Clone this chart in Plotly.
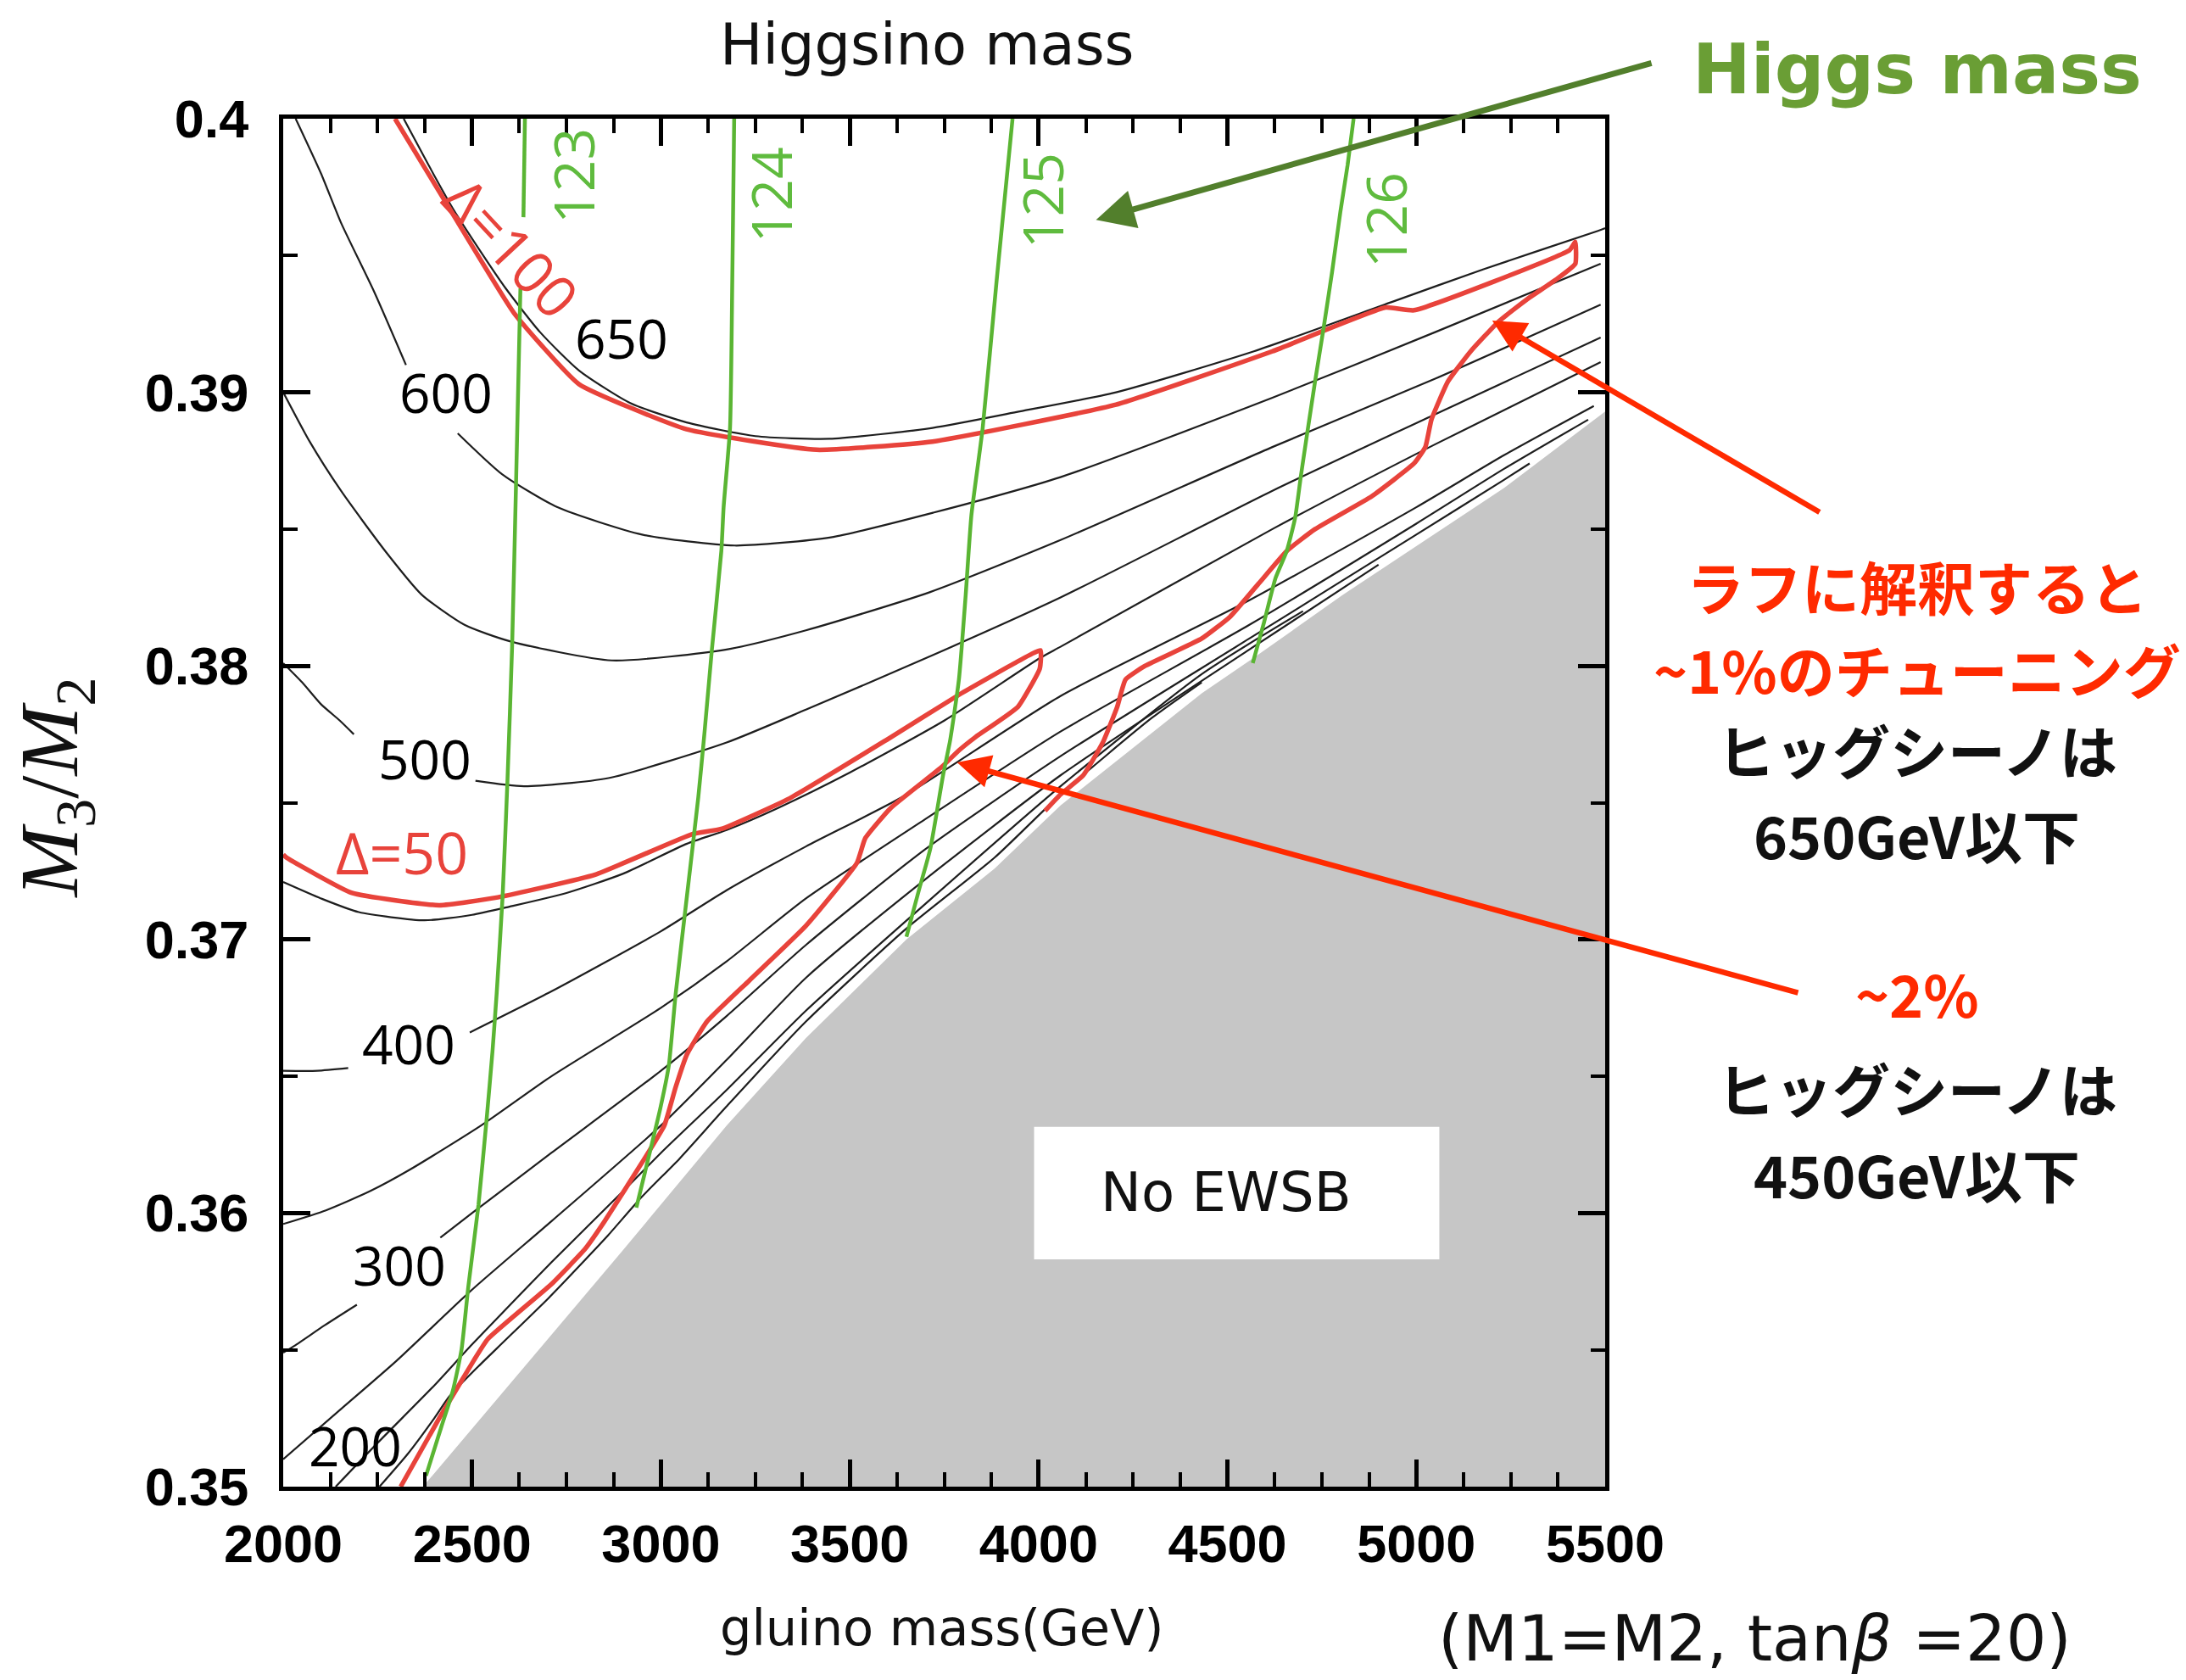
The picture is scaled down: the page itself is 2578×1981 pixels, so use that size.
import plotly.graph_objects as go

# ---------------- data: (gluino mass [GeV], M3/M2) ----------------

# boundary of the region without electroweak symmetry breaking
ewsb_edge = [(2370, 0.3500), (2700, 0.3554), (2897, 0.3586), (3174, 0.3632), (3384, 0.3664),
             (3650, 0.3700), (3884, 0.3726), (4058, 0.3749), (4432, 0.3790), (4570, 0.3803),
             (4806, 0.3826), (5232, 0.3865), (5500, 0.3893)]

# Higgsino mass contours (GeV); "_a"/"_b" pieces are split around the contour label
mu650 = [(2319, 0.4000), (2385, 0.3983), (2450, 0.3967), (2520, 0.3952), (2589, 0.3938),
         (2680, 0.3922), (2783, 0.3908), (2920, 0.3896), (3068, 0.3889), (3250, 0.3884),
         (3446, 0.3883), (3719, 0.3887), (3950, 0.3893), (4205, 0.3900), (4570, 0.3915),
         (4935, 0.3933), (5178, 0.3945), (5481, 0.3959), (5500, 0.3960)]
mu600_a = [(2033, 0.4000), (2100, 0.3980), (2153, 0.3962), (2240, 0.3937), (2325, 0.3910)]
mu600_b = [(2462, 0.3885), (2580, 0.3870), (2726, 0.3858), (2950, 0.3848), (3195, 0.3844),
           (3450, 0.3847), (3721, 0.3856), (4058, 0.3869), (4619, 0.3898), (5050, 0.3922),
           (5488, 0.3947)]
mu550 = [(2000, 0.3900), (2070, 0.3882), (2153, 0.3864), (2270, 0.3842), (2367, 0.3826),
         (2480, 0.3815), (2600, 0.3809), (2870, 0.3802), (3174, 0.3806), (3384, 0.3813),
         (3713, 0.3827), (4058, 0.3846), (4619, 0.3880), (5050, 0.3905), (5488, 0.3932)]
mu500_a = [(2000, 0.3801), (2050, 0.3794), (2100, 0.3786), (2150, 0.3780), (2187, 0.3775)]
mu500_b = [(2509, 0.3758), (2637, 0.3756), (2861, 0.3759), (3174, 0.3772), (3384, 0.3784),
           (3721, 0.3804), (4058, 0.3825), (4619, 0.3864), (5050, 0.3892), (5488, 0.3920)]
mu450 = [(2000, 0.3721), (2100, 0.3715), (2200, 0.3710), (2374, 0.3707), (2500, 0.3709),
         (2599, 0.3712), (2750, 0.3717), (2899, 0.3724), (3069, 0.3735), (3174, 0.3740),
         (3309, 0.3748), (3500, 0.3761), (3750, 0.3780), (4005, 0.3803), (4058, 0.3807),
         (4619, 0.3850), (5050, 0.3881), (5488, 0.3911)]
mu400_a = [(2000, 0.3652), (2090, 0.3652), (2172, 0.3653)]
mu400_b = [(2494, 0.3666), (2710, 0.3681), (3000, 0.3703), (3174, 0.3718), (3384, 0.3734),
           (3638, 0.3752), (4058, 0.3789), (4558, 0.3824), (5000, 0.3858), (5232, 0.3877),
           (5470, 0.3895)]
mu350 = [(2000, 0.3596), (2113, 0.3601), (2230, 0.3608), (2337, 0.3616), (2524, 0.3632),
         (2710, 0.3650), (3000, 0.3675), (3174, 0.3692), (3384, 0.3715), (3700, 0.3744),
         (4058, 0.3776), (4558, 0.3815), (5000, 0.3852), (5232, 0.3872), (5455, 0.3890)]
mu300_a = [(2000, 0.3549), (2030, 0.35515), (2110, 0.3559), (2195, 0.35665)]
mu300_b = [(2416, 0.3591), (2500, 0.3600), (2710, 0.3622), (3000, 0.3652), (3174, 0.3672),
           (3384, 0.3698), (3700, 0.3733), (4058, 0.3767), (4558, 0.3810), (5000, 0.3848),
           (5232, 0.3868), (5300, 0.3874)]
mu250 = [(2000, 0.3510), (2150, 0.3528), (2300, 0.3546), (2500, 0.3572), (2710, 0.3597),
         (3000, 0.3632), (3174, 0.3656), (3384, 0.3686), (3700, 0.3722), (4058, 0.3760),
         (4558, 0.3806), (4900, 0.3837)]
mu200 = [(2139, 0.3500), (2250, 0.3516), (2400, 0.3537), (2500, 0.3552), (2710, 0.3582),
         (2900, 0.3608), (3000, 0.3622), (3174, 0.3645), (3384, 0.3674), (3700, 0.3713),
         (4058, 0.3756), (4432, 0.3797), (4700, 0.3820)]
mu150 = [(2255, 0.3500), (2330, 0.3512), (2400, 0.3525), (2440, 0.3533), (2517, 0.3544),
         (2584, 0.3553), (2703, 0.3569), (2800, 0.3583), (2861, 0.3592), (2950, 0.3606),
         (3050, 0.3620), (3174, 0.3639), (3384, 0.3670), (3650, 0.3704), (3884, 0.3730),
         (4058, 0.3753), (4300, 0.3781), (4432, 0.3794)]

# fine-tuning contours
delta100 = [(2296, 0.4000), (2428, 0.3970), (2611, 0.3929), (2783, 0.3903), (3068, 0.38865),
            (3412, 0.3879), (3719, 0.3882), (4205, 0.38955), (4619, 0.3915), (4919, 0.3931),
            (4994, 0.3930), (5406, 0.3952), (5421, 0.3955), (5421, 0.3947), (5368, 0.3941),
            (5293, 0.3934), (5219, 0.3926), (5144, 0.3915), (5084, 0.3904), (5040, 0.3890),
            (5024, 0.3880), (4994, 0.3874), (4882, 0.3862), (4732, 0.3850), (4657, 0.3842),
            (4582, 0.3830), (4507, 0.3818), (4432, 0.3810), (4282, 0.3800), (4230, 0.3795),
            (4208, 0.3785), (4170, 0.3772), (4118, 0.3760), (4058, 0.3753), (4017, 0.3747)]
delta50 = [(2000, 0.3731), (2008, 0.3730), (2182, 0.3717), (2413, 0.37125), (2568, 0.37154),
           (2826, 0.37237), (3083, 0.37385), (3160, 0.37404), (3341, 0.37516), (3598, 0.37730),
           (3791, 0.37896), (3943, 0.38015), (4005, 0.38057), (4003, 0.3799), (3945, 0.3785),
           (3833, 0.3774), (3788, 0.3769), (3743, 0.3763), (3608, 0.3748), (3541, 0.3737),
           (3519, 0.3728), (3384, 0.3705), (3234, 0.3685), (3122, 0.3670), (3069, 0.3658),
           (3039, 0.3646), (3009, 0.3632), (2957, 0.3620), (2851, 0.3597), (2800, 0.3587),
           (2710, 0.3574), (2542, 0.3554), (2504, 0.3546), (2413, 0.3525), (2311, 0.3500)]

# Higgs mass contours (GeV)
mh123_a = [(2640, 0.4000), (2636, 0.3964)]
mh123_b = [(2628, 0.3938), (2617, 0.3870), (2606, 0.3807), (2594, 0.3759), (2581, 0.3716),
           (2565, 0.3680), (2554, 0.3659), (2539, 0.3635), (2517, 0.3603), (2490, 0.3573),
           (2472, 0.3550), (2449, 0.3535), (2419, 0.3522), (2378, 0.3504)]
mh124 = [(3194, 0.4000), (3189, 0.3941), (3183, 0.3887), (3166, 0.3858), (3160, 0.3842),
         (3135, 0.3806), (3115, 0.3775), (3099, 0.3752), (3069, 0.3716), (3039, 0.3680),
         (3021, 0.3654), (2998, 0.3638), (2972, 0.3623), (2935, 0.3602)]
mh125 = [(3931, 0.4000), (3889, 0.3941), (3852, 0.3887), (3822, 0.3855), (3807, 0.3826),
         (3789, 0.3795), (3766, 0.3773), (3747, 0.3760), (3713, 0.3733), (3683, 0.3718),
         (3650, 0.3701)]
mh126 = [(4834, 0.4000), (4818, 0.3983), (4799, 0.3966), (4777, 0.3944), (4754, 0.3923),
         (4732, 0.3904), (4710, 0.3884), (4694, 0.3869), (4679, 0.3854), (4657, 0.3842),
         (4627, 0.3832), (4597, 0.3816), (4567, 0.3801)]

# contour labels: (text, gluino mass, M3/M2)
mu_labels = [("650", 2896, 0.3920), ("600", 2430, 0.3900), ("500", 2374, 0.3766),
             ("400", 2333, 0.3662), ("300", 2307, 0.3581), ("200", 2191, 0.3515)]
mh_labels = [("123", 2766, 0.3979), ("124", 3289, 0.3972), ("125", 4006, 0.3970),
             ("126", 4916, 0.3963)]

x_ticks = [2000, 2500, 3000, 3500, 4000, 4500, 5000, 5500]
y_ticks = [0.35, 0.36, 0.37, 0.38, 0.39, 0.40]
y_tick_text = ["0.35", "0.36", "0.37", "0.38", "0.39", "0.4"]

# ---------------- styling ----------------
BLACK_LINE = "#1e1e1e"
RED_LINE = "#e8433b"
GREEN_LINE = "#5ab533"
GREEN_TEXT = "#5fbb3e"
ANNOT_RED = "#ff2a00"
HIGGS_GREEN = "#6a9e35"
ARROW_GREEN = "#527f2c"
GREY = "#c6c6c6"


def xs(seg):
    return [p[0] for p in seg]


def ys(seg):
    return [p[1] for p in seg]


def note(x, y, text, font, ref="paper", angle=0):
    return dict(x=x, y=y, xref=ref if ref == "paper" else "x", yref=ref if ref == "paper" else "y",
                text=text, showarrow=False, textangle=angle, font=font,
                xanchor="center", yanchor="middle")


fig = go.Figure()

# No-EWSB region
fig.add_trace(go.Scatter(
    x=xs(ewsb_edge) + [5500, ewsb_edge[0][0]],
    y=ys(ewsb_edge) + [0.35, 0.35],
    fill="toself", fillcolor=GREY, mode="lines", line=dict(width=0, color=GREY),
    hoverinfo="skip"))

for seg in [mu650, mu600_a, mu600_b, mu550, mu500_a, mu500_b, mu450, mu400_a, mu400_b,
            mu350, mu300_a, mu300_b, mu250, mu200, mu150]:
    fig.add_trace(go.Scatter(x=xs(seg), y=ys(seg), mode="lines",
                             line=dict(color=BLACK_LINE, width=2.2, shape="spline", smoothing=0.6),
                             hoverinfo="skip"))

for seg in [delta100, delta50]:
    fig.add_trace(go.Scatter(x=xs(seg), y=ys(seg), mode="lines",
                             line=dict(color=RED_LINE, width=5.5, shape="spline", smoothing=0.4),
                             hoverinfo="skip"))

for seg in [mh123_a, mh123_b, mh124, mh125, mh126]:
    fig.add_trace(go.Scatter(x=xs(seg), y=ys(seg), mode="lines",
                             line=dict(color=GREEN_LINE, width=4.5, shape="spline", smoothing=0.5),
                             hoverinfo="skip"))

annotations = []
for txt, gx, gy in mu_labels:
    annotations.append(note(gx, gy, txt, dict(family="Open Sans", size=64, color="black"),
                            ref="data"))
for txt, gx, gy in mh_labels:
    annotations.append(note(gx, gy, txt, dict(family="Open Sans", size=66, color=GREEN_TEXT),
                            ref="data", angle=-90))

annotations += [
    note(2606, 0.3953, "Δ=100", dict(family="Open Sans", size=68, color=RED_LINE),
         ref="data", angle=47),
    note(2315, 0.3732, "Δ=50", dict(family="Open Sans", size=68, color=RED_LINE), ref="data"),
    note(4497, 0.36075, "No EWSB", dict(family="DejaVu Sans", size=64, color="#111111"),
         ref="data"),
    # titles
    note(0.487, 1.054, "Higgsino mass", dict(family="DejaVu Sans", size=67, color="#111111")),
    note(0.498, -0.1035, "gluino mass(GeV)",
         dict(family="DejaVu Sans", size=59, color="#111111")),
    note(-0.172, 0.511, "<i>M</i><sub>3</sub>/<i>M</i><sub>2</sub>",
         dict(family="Liberation Serif", size=98, color="#111111"), angle=-90),
    note(1.113, -0.111, "(M1=M2, tan<i>β</i> =20)",
         dict(family="DejaVu Sans", size=75, color="#111111")),
    # side notes
    note(1.236, 1.036, "Higgs mass",
         dict(family="DejaVu Sans", size=82, color=HIGGS_GREEN, weight="bold")),
]

side_notes = [("ラフに解釈すると", 0.659, ANNOT_RED), ("~1%のチューニング", 0.598, ANNOT_RED),
              ("ヒッグシーノは", 0.539, "#111111"), ("650GeV以下", 0.477, "#111111"),
              ("~2%", 0.361, ANNOT_RED), ("ヒッグシーノは", 0.292, "#111111"),
              ("450GeV以下", 0.229, "#111111")]
for txt, py, col in side_notes:
    annotations.append(note(1.236, py, txt,
                            dict(family="Noto Sans CJK JP", size=68, color=col, weight="bold")))

# pointer arrows
annotations += [
    dict(x=4152, y=0.3963, ax=5626, ay=0.40205, xref="x", yref="y", axref="x", ayref="y",
         text="", showarrow=True, arrowhead=2, arrowsize=1.3, arrowwidth=7,
         arrowcolor=ARROW_GREEN, standoff=0),
    dict(x=5201, y=0.39262, ax=6071, ay=0.38559, xref="x", yref="y", axref="x", ayref="y",
         text="", showarrow=True, arrowhead=2, arrowsize=1.2, arrowwidth=6.5,
         arrowcolor=ANNOT_RED, standoff=0),
    dict(x=3784, y=0.37647, ax=6014, ay=0.36804, xref="x", yref="y", axref="x", ayref="y",
         text="", showarrow=True, arrowhead=2, arrowsize=1.2, arrowwidth=6.5,
         arrowcolor=ANNOT_RED, standoff=0),
]

axis_common = dict(showline=True, linewidth=5, linecolor="black", mirror="allticks",
                   ticks="inside", ticklen=32, tickwidth=4.5, tickcolor="black",
                   showgrid=False, zeroline=False,
                   tickfont=dict(family="Liberation Sans", size=63, color="black",
                                 weight="bold"))

fig.update_layout(
    width=2578, height=1981,
    margin=dict(l=334, r=685, t=140, b=228),
    paper_bgcolor="white", plot_bgcolor="white",
    showlegend=False,
    xaxis=dict(range=[2000, 5500], tickvals=x_ticks, ticklabelstandoff=8,
               minor=dict(dtick=125, tick0=2000, ticks="inside", ticklen=17, tickwidth=4,
                          tickcolor="black"),
               **axis_common),
    yaxis=dict(range=[0.35, 0.40], tickvals=y_ticks, ticktext=y_tick_text,
               ticklabelstandoff=23,
               minor=dict(dtick=0.005, tick0=0.35, ticks="inside", ticklen=17, tickwidth=4,
                          tickcolor="black"),
               **axis_common),
    shapes=[dict(type="rect", xref="x", yref="y", x0=3988, x1=5061, y0=0.35831, y1=0.36315,
                 fillcolor="white", line=dict(width=0), layer="above")],
    annotations=annotations,
)

fig.write_html("out.html")
